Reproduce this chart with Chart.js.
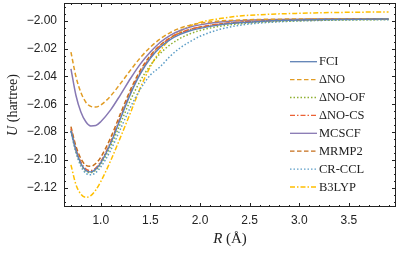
<!DOCTYPE html>
<html><head><meta charset="utf-8">
<script src="https://cdn.jsdelivr.net/npm/chart.js@4"></script>
<style>html,body{margin:0;padding:0;background:#fff}#wrap{width:399px;height:254px}</style>
</head><body><div id="wrap"><canvas id="c"></canvas></div>
<script>
const R = [0.7,0.75,0.8,0.85,0.9,0.95,1.0,1.1,1.2,1.3,1.4,1.5,1.6,1.7,1.8,1.9,2.0,2.2,2.4,2.6,2.8,3.0,3.3,3.6,3.9];
const FCI    = [-2.0790,-2.0930,-2.1025,-2.1075,-2.1085,-2.1065,-2.1020,-2.0880,-2.0700,-2.0525,-2.0380,-2.0270,-2.0190,-2.0135,-2.0098,-2.0072,-2.0055,-2.0030,-2.0015,-2.0005,-1.9999,-1.9995,-1.9991,-1.9989,-1.9988];
const dNO    = [-2.0225,-2.0400,-2.0515,-2.0585,-2.0615,-2.0620,-2.0605,-2.0540,-2.0450,-2.0355,-2.0265,-2.0190,-2.0130,-2.0085,-2.0053,-2.0032,-2.0018,-2.0002,-1.9995,-1.9991,-1.9989,-1.9988,-1.9987,-1.9986,-1.9986];
const dNO_OF = [-2.0790,-2.0935,-2.1030,-2.1080,-2.1090,-2.1072,-2.1030,-2.0900,-2.0735,-2.0570,-2.0430,-2.0320,-2.0235,-2.0172,-2.0127,-2.0094,-2.0070,-2.0040,-2.0022,-2.0011,-2.0004,-2.0000,-1.9996,-1.9993,-1.9992];
const dNO_CS = [-2.0775,-2.0920,-2.1015,-2.1065,-2.1075,-2.1057,-2.1012,-2.0870,-2.0690,-2.0515,-2.0370,-2.0260,-2.0180,-2.0125,-2.0088,-2.0063,-2.0046,-2.0024,-2.0011,-2.0003,-1.9997,-1.9993,-1.9990,-1.9988,-1.9987];
const MCSCF  = [-2.0345,-2.0535,-2.0655,-2.0725,-2.0755,-2.0752,-2.0725,-2.0640,-2.0530,-2.0415,-2.0310,-2.0225,-2.0155,-2.0105,-2.0070,-2.0046,-2.0030,-2.0010,-2.0000,-1.9994,-1.9991,-1.9989,-1.9988,-1.9987,-1.9987];
const MRMP2  = [-2.0760,-2.0900,-2.0990,-2.1037,-2.1045,-2.1025,-2.0980,-2.0840,-2.0665,-2.0495,-2.0355,-2.0250,-2.0175,-2.0122,-2.0087,-2.0063,-2.0046,-2.0024,-2.0011,-2.0003,-1.9997,-1.9993,-1.9990,-1.9988,-1.9987];
const CRCCL  = [-2.0795,-2.0945,-2.1045,-2.1095,-2.1105,-2.1090,-2.1050,-2.0930,-2.0775,-2.0620,-2.0490,-2.0390,-2.0330,-2.0255,-2.0195,-2.0150,-2.0112,-2.0062,-2.0033,-2.0017,-2.0008,-2.0002,-1.9997,-1.9994,-1.9993];
const B3LYP  = [-2.1035,-2.1175,-2.1245,-2.1268,-2.1255,-2.1215,-2.1155,-2.1005,-2.0835,-2.0660,-2.0480,-2.0330,-2.0215,-2.0130,-2.0075,-2.0038,-2.0012,-1.9985,-1.9966,-1.9957,-1.9951,-1.9947,-1.9942,-1.9939,-1.9937];
const seriesNames = ['FCI','\u0394NO','\u0394NO-OF','\u0394NO-CS','MCSCF','MRMP2','CR-CCL','B3LYP'];
const seriesVals = [FCI,dNO,dNO_OF,dNO_CS,MCSCF,MRMP2,CRCCL,B3LYP];
const colors = ['#5E81B5','#E19C24','#8FB032','#EB6235','#8778B3','#C56E1A','#5D9EC7','#FFBF00'];
const dashes = [[],[4.5,2.5],[1.5,2],[5,2,1.5,2],[],[4.5,2.5],[1.5,2],[5,2,1.5,2]];
const xTicks = [1.0,1.5,2.0,2.5,3.0,3.5];
const yTicks = [-2.12,-2.10,-2.08,-2.06,-2.04,-2.02,-2.00];
const xRange = [0.63,3.975];
const yRange = [-2.1337,-1.9873];

const datasets = seriesNames.map((n,i)=>({
  label:n,
  data:R.map((r,j)=>({x:r,y:seriesVals[i][j]})),
  borderColor:colors[i], backgroundColor:colors[i],
  borderDash:dashes[i], borderWidth:1.5,
  pointRadius:0, cubicInterpolationMode:'monotone', fill:false
}));

const minus = s => s.replace('-', '\u2212');

const deco = {
  id:'deco',
  afterDraw(chart){
    const {ctx, chartArea:a, scales:{x,y}} = chart;
    ctx.save();
    ctx.strokeStyle='#222'; ctx.lineWidth=1;
    ctx.strokeRect(a.left+0.5,a.top+0.5,a.right-a.left-1,a.bottom-a.top-1);
    ctx.beginPath();
    for(let k=Math.ceil(xRange[0]*10);k<=Math.floor(xRange[1]*10);k++){
      const v=k/10, px=Math.round(x.getPixelForValue(v))+0.5;
      const len = (k%5===0)?4:2;
      ctx.moveTo(px,a.bottom); ctx.lineTo(px,a.bottom-len);
      ctx.moveTo(px,a.top); ctx.lineTo(px,a.top+len);
    }
    for(let k=Math.ceil(yRange[0]*200);k<=Math.floor(yRange[1]*200);k++){
      const v=k/200, py=Math.round(y.getPixelForValue(v))+0.5;
      const len = (k%4===0)?4:2;
      ctx.moveTo(a.left,py); ctx.lineTo(a.left+len,py);
      ctx.moveTo(a.right,py); ctx.lineTo(a.right-len,py);
    }
    ctx.stroke();
    // legend
    ctx.textBaseline='middle'; ctx.textAlign='left';
    ctx.font='12.5px "Liberation Serif"'; ctx.fillStyle='#222';
    chart.data.datasets.forEach((d,i)=>{
      const yy = 61.7 + i*17.9;
      ctx.beginPath(); ctx.strokeStyle=d.borderColor; ctx.lineWidth=1.3;
      ctx.setLineDash(d.borderDash); ctx.moveTo(290,yy); ctx.lineTo(317,yy); ctx.stroke();
      ctx.setLineDash([]);
      ctx.fillText(d.label, 319, yy+0.5);
    });
    // axis titles
    ctx.fillStyle='#222';
    const cx=(a.left+a.right)/2;
    ctx.font='italic 15px "Liberation Serif"';
    const w1=ctx.measureText('R').width;
    ctx.font='15px "Liberation Serif"';
    const w2=ctx.measureText(' (\u00C5)').width;
    let sx=cx-(w1+w2)/2;
    ctx.font='italic 15px "Liberation Serif"'; ctx.fillText('R',sx,239);
    ctx.font='15px "Liberation Serif"'; ctx.fillText(' (\u00C5)',sx+w1,239);
    ctx.translate(13,(a.top+a.bottom)/2); ctx.rotate(-Math.PI/2);
    ctx.font='italic 14px "Liberation Serif"';
    const u1=ctx.measureText('U').width;
    ctx.font='14px "Liberation Serif"';
    const u2=ctx.measureText(' (hartree)').width;
    let sy=-(u1+u2)/2;
    ctx.font='italic 14px "Liberation Serif"'; ctx.fillText('U',sy,0);
    ctx.font='14px "Liberation Serif"'; ctx.fillText(' (hartree)',sy+u1,0);
    ctx.restore();
  }
};

new Chart(document.getElementById('c'),{
  type:'line',
  data:{datasets},
  options:{
    responsive:true, maintainAspectRatio:false, animation:false,
    layout:{padding:{top:3,right:3,left:0,bottom:0}},
    plugins:{legend:{display:false},tooltip:{enabled:false}},
    scales:{
      x:{type:'linear',min:xRange[0],max:xRange[1],
        grid:{display:false,drawTicks:false},border:{display:false},
        afterBuildTicks:s=>{s.ticks=xTicks.map(v=>({value:v}));},
        afterFit:s=>{s.height=47;s.paddingLeft=0;s.paddingRight=0;},
        ticks:{padding:6,color:'#222',font:{family:'"Liberation Sans"',size:12},callback:v=>v.toFixed(1)}},
      y:{type:'linear',min:yRange[0],max:yRange[1],
        grid:{display:false,drawTicks:false},border:{display:false},
        afterBuildTicks:s=>{s.ticks=yTicks.map(v=>({value:v}));},
        afterFit:s=>{s.width=64;s.paddingTop=0;s.paddingBottom=0;},
        ticks:{padding:7,color:'#222',font:{family:'"Liberation Sans"',size:12},callback:v=>minus(v.toFixed(2))}}
    }
  },
  plugins:[deco]
});
</script></body></html>
